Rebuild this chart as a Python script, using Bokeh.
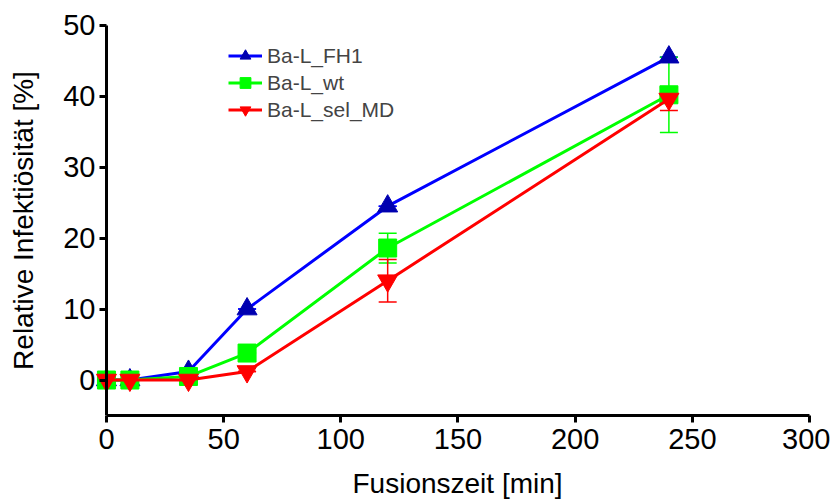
from bokeh.plotting import figure
from bokeh.models import ColumnDataSource, Whisker, TeeHead, FixedTicker, Range1d, Legend, Title
from bokeh.embed import file_html
from bokeh.resources import INLINE

# Data
time_min = [0, 10, 35, 60, 120, 240]
fh1 = [0, 0, 1.2, 10, 24.5, 45.5]
fh1_err = [0, 0, 0, 0, 0, 0]
wt = [0, 0, 0.5, 3.8, 18.6, 40.2]
wt_err = [0, 0, 0, 0, 2.1, 5.3]
sel_md = [0, 0, 0, 1.2, 14.0, 39.6]
sel_md_err = [0, 0, 0, 0, 3.0, 1.6]
x_ticks = [0, 50, 100, 150, 200, 250, 300]
y_ticks = [0, 10, 20, 30, 40, 50]

FONT = "Liberation Sans"

p = figure(width=830, height=499, output_backend="svg", toolbar_location=None,
           x_range=Range1d(-41.8, 300), y_range=Range1d(-5, 52.5),
           min_border_left=8, min_border_right=21, min_border_top=7, min_border_bottom=84)
p.outline_line_color = None
p.grid.visible = False
p.background_fill_color = "white"
p.border_fill_color = "white"

for ax in (p.xaxis[0], p.yaxis[0]):
    ax.axis_line_width = 3
    ax.axis_line_color = "black"
    ax.major_tick_line_width = 3
    ax.major_tick_line_color = "black"
    ax.major_tick_out = 7
    ax.major_tick_in = 0
    ax.minor_tick_line_color = None
    ax.major_label_text_font = FONT
    ax.major_label_text_font_size = "29px"
    ax.major_label_text_color = "black"
    ax.axis_label_text_font = FONT
    ax.axis_label_text_font_size = "28px"
    ax.axis_label_text_font_style = "normal"
    ax.axis_label_text_color = "black"

p.xaxis.ticker = FixedTicker(ticks=x_ticks)
p.yaxis.ticker = FixedTicker(ticks=y_ticks)
p.xaxis.bounds = (0, 300)
p.yaxis.bounds = (-5, 50)
p.yaxis.fixed_location = 0
p.yaxis.axis_label = "Relative Infektiösität [%]"
p.xaxis.major_label_standoff = 6
p.yaxis.major_label_standoff = 4
p.yaxis.axis_label_standoff = 21

xlabel = Title(text="Fusionszeit [min]", align="left", offset=344,
               text_font=FONT, text_font_size="28px", text_font_style="normal",
               text_color="black", standoff=0,
               padding=dict(left=0, right=0, top=14, bottom=0))
p.add_layout(xlabel, "below")

series = [
    ("Ba-L_FH1", fh1, fh1_err, "#0000FF", "#0000B0", "triangle", 20),
    ("Ba-L_wt", wt, wt_err, "#00FF00", "#00FF00", "square", 18),
    ("Ba-L_sel_MD", sel_md, sel_md_err, "#FF0000", "#FF0000", "inverted_triangle", 20),
]

items = []
for name, vals, errs, lc, mc, marker, size in series:
    src = ColumnDataSource(dict(
        x=time_min, y=vals,
        lo=[v - e for v, e in zip(vals, errs)],
        hi=[v + e for v, e in zip(vals, errs)],
    ))
    w = Whisker(source=src, base="x", upper="hi", lower="lo",
                line_color=lc, line_width=1.5,
                upper_head=TeeHead(size=18, line_color=lc, line_width=1.5),
                lower_head=TeeHead(size=18, line_color=lc, line_width=1.5))
    p.add_layout(w)
    r1 = p.line("x", "y", source=src, line_color=lc, line_width=3)
    r2 = p.scatter("x", "y", source=src, marker=marker, size=size,
                   fill_color=mc, line_color=mc)
    items.append((name, [r1, r2]))

legend = Legend(items=items, location=(220, 292))
legend.border_line_color = None
legend.background_fill_alpha = 0
legend.padding = 0
legend.margin = 0
legend.spacing = 0
legend.glyph_width = 34
legend.glyph_height = 27
legend.label_height = 27
legend.label_standoff = 5
legend.label_text_font = FONT
legend.label_text_font_size = "21px"
p.add_layout(legend)

open("out.html", "w").write(file_html(p, INLINE))
